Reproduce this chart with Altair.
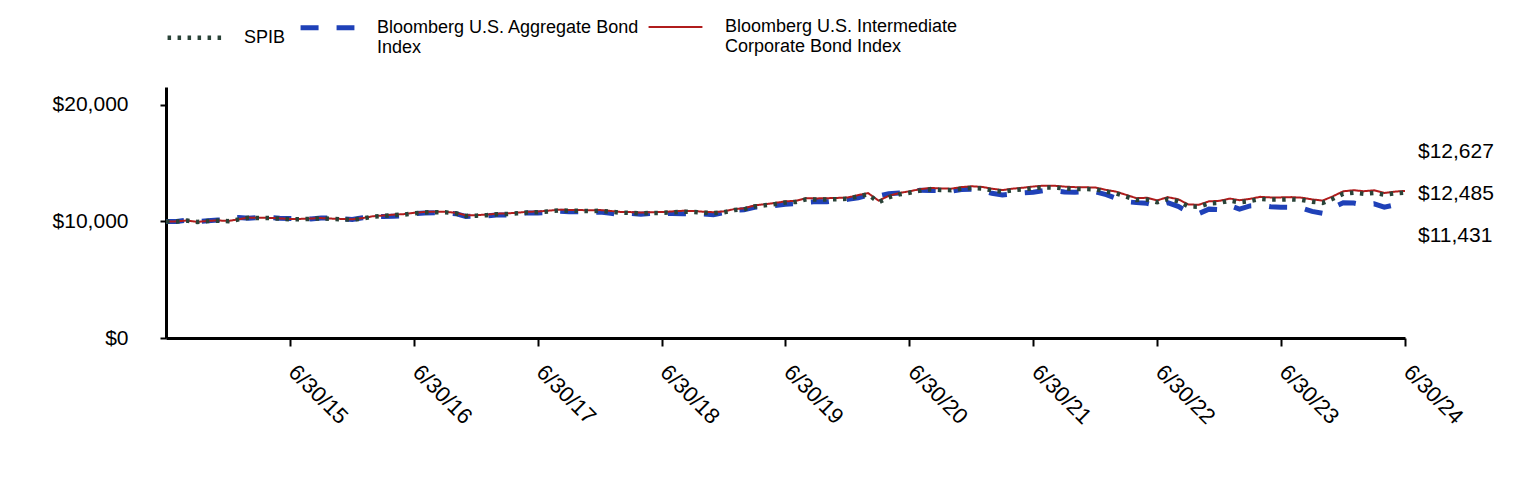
import altair as alt
import pandas as pd

FONT = "Arial, Liberation Sans, sans-serif"

SPIB_NAME = "SPIB"
AGG_NAME = "Bloomberg U.S. Aggregate Bond Index"
CORP_NAME = "Bloomberg U.S. Intermediate Corporate Bond Index"

dates = pd.date_range("2014-06-30", periods=121, freq="ME").strftime("%Y-%m-%d").tolist()

spib = [10000, 10010, 10080, 9960, 10040, 10080, 10030, 10180, 10320, 10300,
        10290, 10250, 10190, 10200, 10230, 10270, 10220, 10190, 10160, 10260,
        10410, 10480, 10550, 10590, 10700, 10780, 10800, 10790, 10700, 10480,
        10500, 10540, 10620, 10640, 10700, 10780, 10800, 10870, 10950, 10930,
        10920, 10900, 10920, 10840, 10760, 10740, 10700, 10730, 10740, 10790,
        10840, 10830, 10760, 10720, 10790, 10980, 11040, 11290, 11390, 11500,
        11630, 11680, 11900, 11880, 11900, 11920, 11950, 12160, 12330, 11650,
        12080, 12330, 12470, 12650, 12760, 12700, 12690, 12820, 12890, 12830,
        12680, 12560, 12680, 12760, 12860, 12930, 12920, 12850, 12800, 12790,
        12760, 12560, 12420, 12130, 11850, 11880, 11650, 11930, 11750, 11300,
        11270, 11560, 11600, 11790, 11650, 11760, 11930, 11880, 11880, 11900,
        11850, 11700, 11600, 11950, 12380, 12470, 12380, 12450, 12310, 12420,
        12485]

corp = [10000, 10012, 10085, 9968, 10050, 10092, 10043, 10195, 10335, 10318,
        10310, 10271, 10212, 10224, 10255, 10296, 10248, 10219, 10190, 10292,
        10444, 10516, 10588, 10630, 10742, 10824, 10845, 10836, 10748, 10527,
        10548, 10590, 10671, 10693, 10754, 10836, 10857, 10929, 11010, 10991,
        10982, 10963, 10984, 10905, 10826, 10807, 10768, 10800, 10812, 10864,
        10915, 10906, 10838, 10800, 10872, 11066, 11127, 11380, 11482, 11594,
        11726, 11777, 11999, 11981, 12002, 12024, 12055, 12268, 12440, 11790,
        12200, 12450, 12592, 12775, 12888, 12829, 12820, 12952, 13024, 12965,
        12815, 12696, 12818, 12900, 13002, 13075, 13066, 12997, 12949, 12940,
        12911, 12712, 12574, 12285, 12004, 12036, 11808, 12092, 11914, 11464,
        11436, 11730, 11773, 11967, 11830, 11943, 12115, 12068, 12070, 12093,
        12045, 11897, 11799, 12156, 12594, 12687, 12600, 12676, 12450, 12564,
        12627]

agg = [10000, 10005, 10115, 9990, 10060, 10130, 10140, 10350, 10280, 10330,
       10360, 10280, 10250, 10260, 10220, 10290, 10290, 10230, 10180, 10320,
       10430, 10430, 10460, 10500, 10660, 10730, 10750, 10750, 10670, 10440,
       10470, 10490, 10560, 10560, 10640, 10740, 10720, 10790, 10880, 10830,
       10830, 10770, 10820, 10700, 10630, 10700, 10620, 10690, 10670, 10680,
       10670, 10670, 10640, 10590, 10760, 10960, 11000, 11220, 11280, 11370,
       11480, 11540, 11650, 11710, 11690, 11800, 11900, 12040, 12260, 12180,
       12380, 12450, 12490, 12690, 12670, 12650, 12590, 12750, 12770, 12640,
       12420, 12280, 12370, 12460, 12520, 12650, 12640, 12530, 12510, 12550,
       12540, 12300, 12000, 11700, 11620, 11560, 11350, 11620, 11300, 10820,
       10680, 11060, 11010, 11350, 11060, 11340, 11400, 11270, 11230, 11220,
       11150, 10870, 10700, 11180, 11610, 11580, 11420, 11520, 11230, 11420,
       11431]

order = [SPIB_NAME, AGG_NAME, CORP_NAME]
colors = ["#2a4338", "#1f41b8", "#b01c1c"]
dashes = [[3.5, 6.5], [18, 18], [1, 0]]
widths = [4.5, 5, 2]

rows = []
for name, vals in [(AGG_NAME, agg), (CORP_NAME, corp), (SPIB_NAME, spib)]:
    for d, v in zip(dates, vals):
        rows.append({"date": d, "value": v, "series": name})
df = pd.DataFrame(rows)

# end labels (top to bottom: corporate, SPIB, aggregate)
end_vals = [corp[-1], spib[-1], agg[-1]]
end_y = [65, 107, 149]
labels_df = pd.DataFrame({"label": ["${:,}".format(v) for v in end_vals], "ypix": end_y})

W, H = 1239, 251

label_expr = (
    "datum.label == '" + AGG_NAME + "' ? ['Bloomberg U.S. Aggregate Bond', 'Index'] : "
    "datum.label == '" + CORP_NAME + "' ? ['Bloomberg U.S. Intermediate', 'Corporate Bond Index'] : datum.label"
)

legend = alt.Legend(
    title=None, orient="none", legendX=-1, legendY=-89, direction="horizontal",
    columns=3, symbolType="stroke", symbolSize=2900, labelFontSize=18, labelFont=FONT,
    labelColor="black", labelLimit=500, labelExpr=label_expr, columnPadding=4,
    labelOffset=20, labelBaseline="middle",
)

x_ticks = [alt.DateTime(year=y, month=6, date=30, utc=True) for y in range(2015, 2025)]

lines = alt.Chart(df).mark_line(strokeCap="butt").encode(
    x=alt.X(
        "date:T",
        scale=alt.Scale(type="utc", domain=[alt.DateTime(year=2014, month=6, date=30, utc=True),
                                            alt.DateTime(year=2024, month=6, date=30, utc=True)]),
        axis=alt.Axis(
            values=x_ticks, labelExpr="utcFormat(datum.value, '%-m/%d/%y')",
            labelAngle=45, labelAlign="left", labelBaseline="top", labelFontSize=22,
            labelFont=FONT, labelColor="black", labelPadding=15, labelOffset=9,
            tickSize=8, tickWidth=2,
            tickColor="black", domainWidth=3, domainColor="black", grid=False, title=None,
            labelOverlap=False,
        ),
    ),
    y=alt.Y(
        "value:Q",
        scale=alt.Scale(domain=[0, 21545], nice=False, zero=True),
        axis=alt.Axis(
            values=[0, 10000, 20000], format="$,.0f", labelFontSize=21, labelFont=FONT,
            labelColor="black", labelPadding=32, tickSize=6, tickWidth=2, tickColor="black",
            domainWidth=3, domainColor="black", grid=False, title=None,
        ),
    ),
    color=alt.Color("series:N", scale=alt.Scale(domain=order, range=colors), legend=legend),
    strokeDash=alt.StrokeDash("series:N", scale=alt.Scale(domain=order, range=dashes), legend=legend),
    strokeWidth=alt.StrokeWidth("series:N", scale=alt.Scale(type="ordinal", domain=order, range=widths), legend=legend),
)

end_text = alt.Chart(labels_df).mark_text(
    align="left", baseline="middle", fontSize=21, font=FONT, color="black"
).encode(
    x=alt.value(W + 13),
    y=alt.Y("ypix:Q", scale=None),
    text="label:N",
)

chart = alt.layer(lines, end_text).properties(
    width=W, height=H,
    autosize=alt.AutoSizeParams(type="none"),
    padding={"left": 158, "top": 79, "right": 95, "bottom": 100},
).configure_view(stroke=None)

chart.save("out.html", embed_options={"renderer": "svg", "actions": False})
